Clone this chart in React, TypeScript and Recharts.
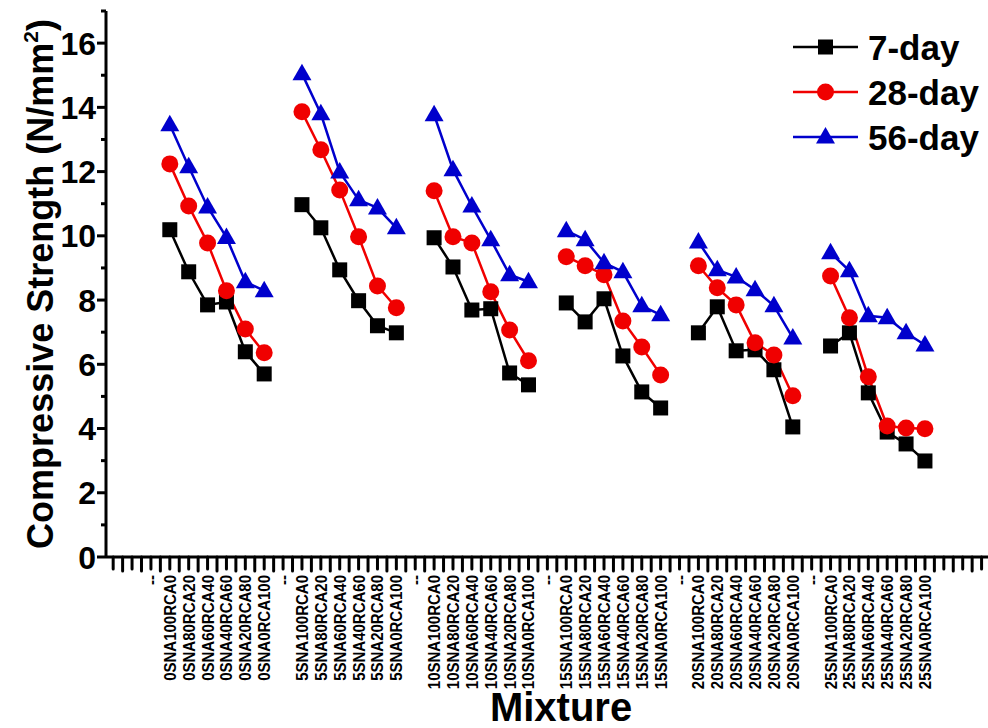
import React from 'react';
import { LineChart, Line, XAxis, YAxis, Legend } from 'recharts';

const FONT = "'Liberation Sans', Arial, sans-serif";

const categories = [
  '--', '0SNA100RCA0', '0SNA80RCA20', '0SNA60RCA40', '0SNA40RCA60', '0SNA20RCA80', '0SNA0RCA100',
  '--', '5SNA100RCA0', '5SNA80RCA20', '5SNA60RCA40', '5SNA40RCA60', '5SNA20RCA80', '5SNA0RCA100',
  '--', '10SNA100RCA0', '10SNA80RCA20', '10SNA60RCA40', '10SNA40RCA60', '10SNA20RCA80', '10SNA0RCA100',
  '--', '15SNA100RCA0', '15SNA80RCA20', '15SNA60RCA40', '15SNA40RCA60', '15SNA20RCA80', '15SNA0RCA100',
  '--', '20SNA100RCA0', '20SNA80RCA20', '20SNA60RCA40', '20SNA40RCA60', '20SNA20RCA80', '20SNA0RCA100',
  '--', '25SNA100RCA0', '25SNA80RCA20', '25SNA60RCA40', '25SNA40RCA60', '25SNA20RCA80', '25SNA0RCA100',
];

// null on the '--' separators so each group is its own line segment
const day7 = [
  null, 10.19, 8.88, 7.85, 7.94, 6.39, 5.7,
  null, 10.97, 10.25, 8.94, 7.98, 7.2, 6.98,
  null, 9.94, 9.03, 7.69, 7.73, 5.73, 5.36,
  null, 7.91, 7.32, 8.04, 6.26, 5.14, 4.64,
  null, 6.98, 7.79, 6.42, 6.45, 5.83, 4.05,
  null, 6.57, 6.98, 5.11, 3.89, 3.52, 2.99,
];

const day28 = [
  null, 12.24, 10.93, 9.78, 8.29, 7.1, 6.36,
  null, 13.86, 12.68, 11.43, 9.97, 8.44, 7.76,
  null, 11.4, 9.97, 9.78, 8.26, 7.07, 6.11,
  null, 9.35, 9.07, 8.79, 7.35, 6.54, 5.67,
  null, 9.07, 8.38, 7.85, 6.67, 6.29, 5.02,
  null, 8.75, 7.45, 5.61, 4.08, 4.02, 3.99,
];

const day56 = [
  null, 13.46, 12.15, 10.9, 9.95, 8.57, 8.29,
  null, 15.05, 13.8, 11.99, 11.12, 10.87, 10.25,
  null, 13.77, 12.06, 10.93, 9.88, 8.79, 8.57,
  null, 10.16, 9.88, 9.16, 8.88, 7.82, 7.54,
  null, 9.81, 8.94, 8.72, 8.32, 7.82, 6.82,
  null, 9.47, 8.91, 7.51, 7.45, 6.98, 6.6,
];

const yTicks = [0, 1, 2, 3, 4, 5, 6, 7, 8, 9, 10, 11, 12, 13, 14, 15, 16, 17];

const data = categories.map((name, i) => ({
  idx: i,
  name,
  d7: day7[i],
  d28: day28[i],
  d56: day56[i],
}));

const xTicks: number[] = [];
for (let v = -2; v <= 44; v += 0.5) xTicks.push(v);

const BLACK = '#000000';
const RED = '#F00000';
const BLUE = '#0000CC';

const series = [
  { key: 'd7', name: '7-day', color: BLACK, shape: 'square' },
  { key: 'd28', name: '28-day', color: RED, shape: 'circle' },
  { key: 'd56', name: '56-day', color: BLUE, shape: 'triangle' },
];

const Marker = ({ shape, cx, cy, color }: any) => {
  if (shape === 'square') {
    return <rect x={cx - 7.5} y={cy - 7.5} width={15} height={15} fill={color} />;
  }
  if (shape === 'circle') {
    return <circle cx={cx} cy={cy} r={8.5} fill={color} />;
  }
  return (
    <polygon
      points={`${cx},${cy - 10} ${cx - 9.5},${cy + 6.5} ${cx + 9.5},${cy + 6.5}`}
      fill={color}
    />
  );
};

const makeDot = (shape: string, color: string) => (props: any) => {
  const { cx, cy, index } = props;
  if (cx == null || cy == null || props.value == null) return <g key={`${shape}-${index}`} />;
  return (
    <g key={`${shape}-${index}`}>
      <Marker shape={shape} cx={cx} cy={cy} color={color} />
    </g>
  );
};

const XTick = ({ x, y, payload }: any) => {
  const v = payload.value;
  const major = Number.isInteger(v);
  const label = major && v >= 0 && v < categories.length ? categories[v] : '';
  return (
    <g>
      <line x1={x} x2={x} y1={y} y2={y + (major ? 12 : 14)} stroke="#000" strokeWidth={3} strokeLinecap="round" />
      {label && (
        <text
          transform={`translate(${x + 6},${575}) rotate(-90) scale(1,1.15)`}
          textAnchor="end"
          fontSize={15}
          fontWeight="bold"
          fontFamily={FONT}
          fill="#000"
        >
          {label}
        </text>
      )}
    </g>
  );
};

const YTick = ({ x, y, payload }: any) => {
  const v = payload.value;
  const major = v % 2 === 0;
  return (
    <g>
      <line x1={x - (major ? 9 : 5)} x2={x} y1={y} y2={y} stroke="#000" strokeWidth={3} />
      {major && (
        <text
          x={x - 10}
          y={y}
          dy="0.36em"
          textAnchor="end"
          fontSize={32}
          fontWeight="bold"
          fontFamily={FONT}
          fill="#000"
        >
          {v}
        </text>
      )}
    </g>
  );
};

const YTitle = () => (
  <text
    transform="translate(53,284) rotate(-90)"
    textAnchor="middle"
    fontSize={36}
    fontWeight="bold"
    fontFamily={FONT}
    fill="#000"
  >
    Compressive Strength (N/mm
    <tspan fontSize={21} dy={-15}>2</tspan>
    <tspan dy={15}>)</tspan>
  </text>
);

const XTitle = () => (
  <text
    x={561}
    y={721}
    textAnchor="middle"
    fontSize={40}
    fontWeight="bold"
    fontFamily={FONT}
    fill="#000"
  >
    Mixture
  </text>
);

const LegendBox = () => (
  <svg width={198} height={140}>
    {series.map((s, i) => {
      const cy = 22 + i * 45;
      return (
        <g key={s.key}>
          <line x1={3} x2={68} y1={cy} y2={cy} stroke={s.color} strokeWidth={2.5} />
          <Marker shape={s.shape} cx={35.5} cy={cy} color={s.color} />
          <text
            x={78}
            y={cy}
            dy="0.36em"
            fontSize={35}
            fontWeight="bold"
            fontFamily={FONT}
            fill="#000"
          >
            {s.name}
          </text>
        </g>
      );
    })}
  </svg>
);

export default function App() {
  return (
    <div style={{ position: 'absolute', left: 0, top: 0, width: 988, height: 728, background: '#fff' }}>
      <LineChart width={988} height={728} data={data} margin={{ top: 11, right: 0, bottom: 0, left: 0 }}>
        <XAxis
          dataKey="idx"
          type="number"
          domain={[-2.38, 44.34]}
          ticks={xTicks}
          interval={0}
          tickSize={0}
          tickMargin={0}
          tickLine={false}
          axisLine={{ stroke: '#000', strokeWidth: 3 }}
          height={171}
          tick={<XTick />}
          label={<XTitle />}
        />
        <YAxis
          type="number"
          domain={[0, 17]}
          ticks={yTicks}
          interval={0}
          width={106}
          tickSize={0}
          tickMargin={0}
          tickLine={false}
          axisLine={{ stroke: '#000', strokeWidth: 3 }}
          tick={<YTick />}
          label={<YTitle />}
        />
        <Legend
          layout="horizontal"
          align="center"
          verticalAlign="middle"
          wrapperStyle={{ left: 790, top: 25, width: 198, height: 140 }}
          content={() => <LegendBox />}
        />
        {series.map((s) => (
          <Line
            key={s.key}
            type="linear"
            dataKey={s.key}
            name={s.name}
            stroke={s.color}
            strokeWidth={2.5}
            connectNulls={false}
            dot={makeDot(s.shape, s.color)}
            activeDot={false}
            isAnimationActive={false}
          />
        ))}
      </LineChart>
    </div>
  );
}
